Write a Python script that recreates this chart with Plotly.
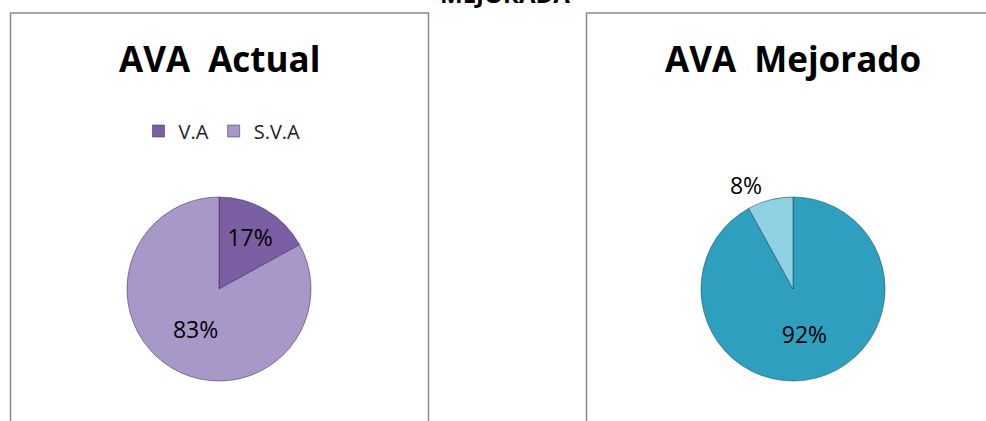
import plotly.graph_objects as go

W, H = 986, 421

categories = ["V.A", "S.V.A"]
actual_values = [17, 83]
mejorado_values = [92, 8]
actual_colors = ["#7b5fa4", "#a898ca"]
mejorado_colors = ["#2f9fc0", "#8fd0e2"]
titles = ["AVA  Actual", "AVA  Mejorado"]
top_text = "MEJORADA"

FONT = "Open Sans"

def px_x(x):
    return x / W

def px_y(y):
    return (H - y) / H

fig = go.Figure()

# left pie: center (219, 289), radius 92
fig.add_trace(go.Pie(
    labels=categories, values=actual_values, sort=False,
    direction="clockwise", rotation=0,
    marker=dict(colors=actual_colors, line=dict(color="rgba(60,50,80,0.55)", width=1)),
    texttemplate="%{percent:.0%}", textposition="inside",
    insidetextorientation="horizontal",
    textfont=dict(family=FONT, size=23, color="black"),
    domain=dict(x=[px_x(127), px_x(311)], y=[px_y(381), px_y(197)]),
    legend="legend", hoverinfo="label+percent",
))

# right pie: center (793, 289), radius 92
fig.add_trace(go.Pie(
    labels=categories, values=mejorado_values, sort=False,
    direction="clockwise", rotation=0,
    marker=dict(colors=mejorado_colors, line=dict(color="rgba(30,70,85,0.55)", width=1)),
    texttemplate="%{percent:.0%}", textposition=["inside", "outside"],
    insidetextorientation="horizontal",
    textfont=dict(family=FONT, size=23, color="black"),
    domain=dict(x=[px_x(701), px_x(885)], y=[px_y(381), px_y(197)]),
    legend="legend2", hoverinfo="label+percent",
))

legend_common = dict(
    orientation="h", xanchor="center", yanchor="middle",
    font=dict(family=FONT, size=20, color="#222"),
    bgcolor="rgba(0,0,0,0)", itemclick=False, itemdoubleclick=False,
    traceorder="normal", itemwidth=30,
)

fig.update_layout(
    width=W, height=H,
    margin=dict(l=0, r=0, t=0, b=0),
    paper_bgcolor="white", plot_bgcolor="white",
    showlegend=True,
    legend=dict(x=px_x(222), y=px_y(131), **legend_common),
    legend2=dict(x=px_x(796), y=px_y(131), **legend_common),
    shapes=[
        dict(type="rect", xref="paper", yref="paper",
             x0=px_x(10.5), x1=px_x(428.5), y0=px_y(440), y1=px_y(13),
             line=dict(color="#8c8c8c", width=1.5), fillcolor="rgba(0,0,0,0)", layer="below"),
        dict(type="rect", xref="paper", yref="paper",
             x0=px_x(586.5), x1=px_x(1010), y0=px_y(440), y1=px_y(13),
             line=dict(color="#8c8c8c", width=1.5), fillcolor="rgba(0,0,0,0)", layer="below"),
    ],
    annotations=[
        dict(text=f"<b>{titles[0]}</b>", x=px_x(219), y=px_y(58), xref="paper", yref="paper",
             showarrow=False, xanchor="center", yanchor="middle",
             font=dict(family=FONT, size=35, color="black")),
        dict(text=f"<b>{titles[1]}</b>", x=px_x(793), y=px_y(58), xref="paper", yref="paper",
             showarrow=False, xanchor="center", yanchor="middle",
             font=dict(family=FONT, size=35, color="black")),
        dict(text=f"<b>{top_text}</b>", x=px_x(505), y=px_y(-6), xref="paper", yref="paper",
             showarrow=False, xanchor="center", yanchor="middle",
             font=dict(family=FONT, size=24, color="black")),
    ],
)

fig.write_html("out.html")
